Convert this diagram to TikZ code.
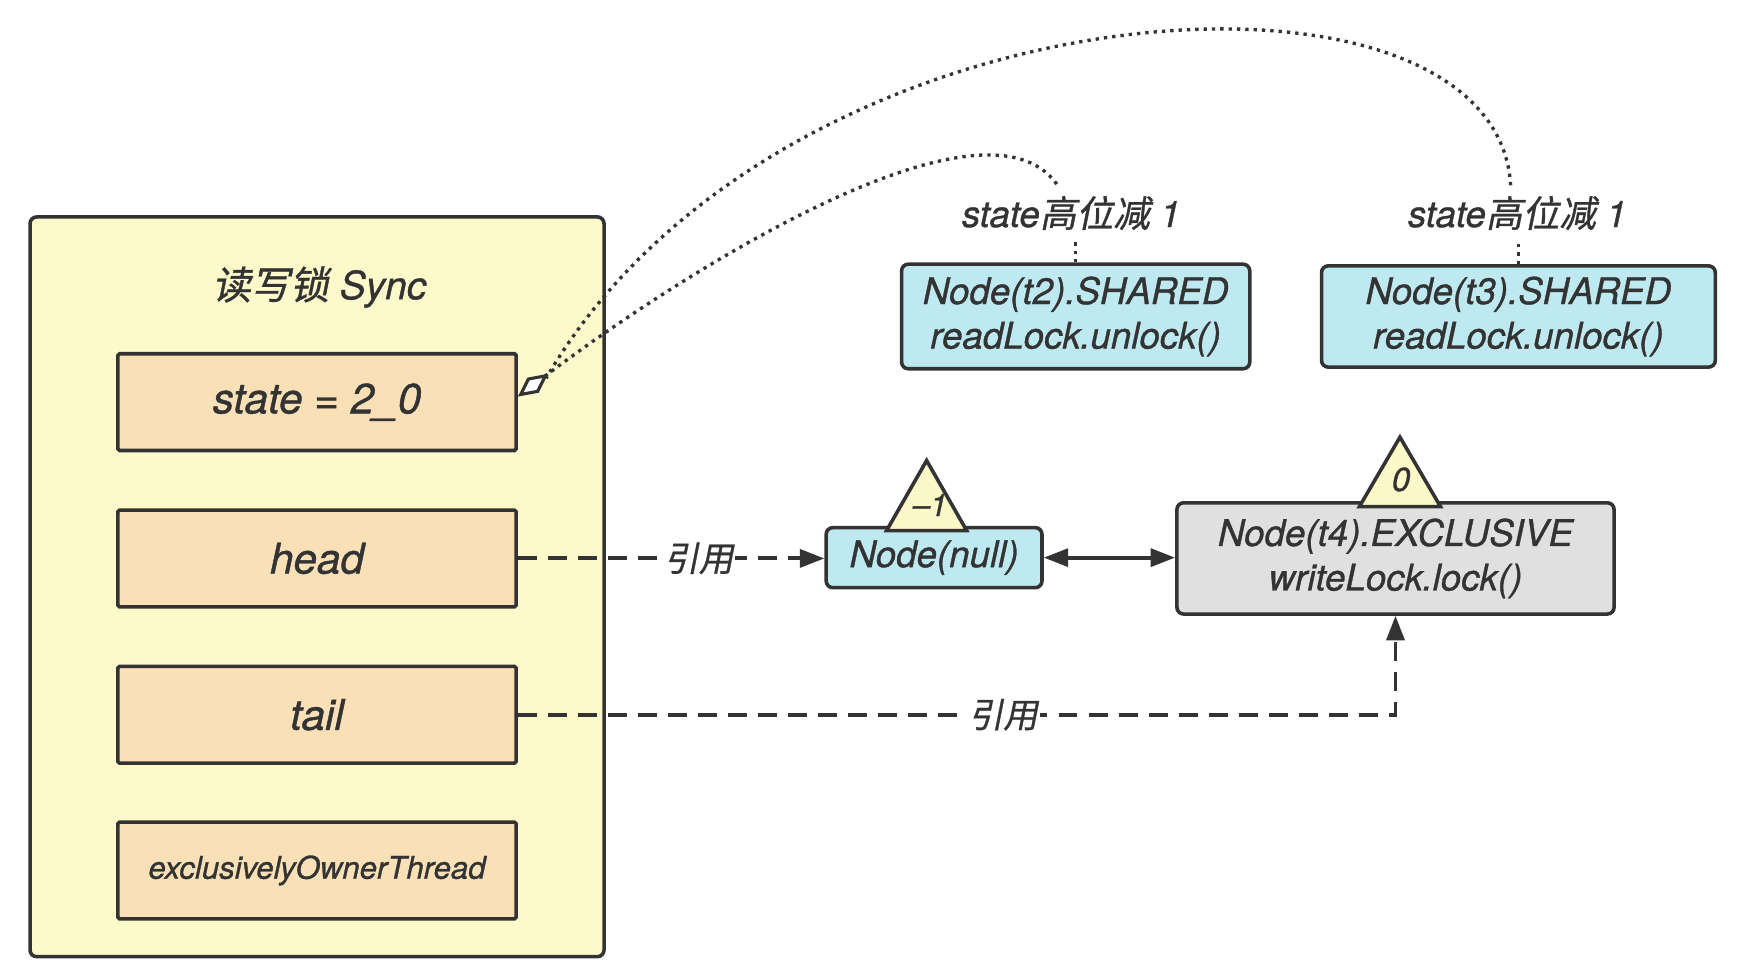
\documentclass[tikz,border=0pt]{standalone}
\usepackage{fontspec}
\setmainfont{TeX Gyre Heros}[ItalicFeatures={FakeBold=0.9}, UprightFeatures={FakeBold=0.9}]
\newfontfamily\cjk[FakeSlant=0.2, FakeBold=0.9]{Noto Sans CJK SC}
\newcommand{\zh}[1]{{\cjk\upshape #1}}
\usetikzlibrary{arrows.meta,calc}
\definecolor{ink}{HTML}{333333}
\definecolor{syncbg}{HTML}{FEF9CA}
\definecolor{fieldbg}{HTML}{F9E0B7}
\definecolor{cyanbg}{HTML}{BEE9F0}
\definecolor{graybg}{HTML}{E0E0E0}
\definecolor{tribg}{HTML}{FDF8C8}
\begin{document}
\begin{tikzpicture}[x=1pt,y=-1pt,
  base/.style={draw=ink, line width=3.2pt, inner sep=0pt, text=ink, align=center},
  syncbox/.style={base, fill=syncbg, rounded corners=6pt},
  field/.style={base, fill=fieldbg, rounded corners=1.5pt, minimum width=358pt, minimum height=87pt, font=\itshape\fontsize{38}{45}\selectfont},
  cyanbox/.style={base, fill=cyanbg, rounded corners=6pt, font=\itshape\fontsize{33}{40}\selectfont},
  graybox/.style={base, fill=graybg, rounded corners=6pt, font=\itshape\fontsize{33}{40}\selectfont},
  txt/.style={inner sep=0pt, text=ink, font=\itshape\fontsize{33}{40}\selectfont},
  lbl/.style={fill=white, inner sep=2pt, text=ink, font=\fontsize{31}{36}\selectfont},
  tri/.style={draw=ink, fill=tribg, line width=3.2pt, line join=miter},
  dashline/.style={draw=ink, line width=3.5pt, dash pattern=on 17pt off 10pt},
  dotline/.style={draw=ink, line width=3pt, dash pattern=on 3pt off 4.5pt},
  tip/.style={-{Triangle[length=22pt,width=16pt]}}
]
\useasboundingbox (0,0) rectangle (1566,879);

% Sync container
\node[syncbox, minimum width=516pt, minimum height=665pt] (sync) at (285,527.5) {};
\node[txt, font=\itshape\fontsize{35}{42}\selectfont] (title) at (287,258) {\zh{读写锁} Sync};
\node[field] (state) at (285,361.5) {state = 2\_0};
\node[field] (head) at (285,502) {head};
\node[field] (tail) at (285,642.5) {tail};
\node[field, font=\itshape\fontsize{28}{34}\selectfont] (excl) at (285,782.5) {exclusivelyOwnerThread};

% shared nodes
\node[cyanbox, minimum width=313pt, minimum height=94pt] (t2) at (967,284.5) {Node(t2).SHARED\\readLock.unlock()};
\node[cyanbox, minimum width=354pt, minimum height=91pt] (t3) at (1365,284.5) {Node(t3).SHARED\\readLock.unlock()};
\node[txt] (lab1) at (963,191.5) {state\zh{高位减} 1};
\node[txt] (lab2) at (1364,191.5) {state\zh{高位减} 1};

% queue nodes
\node[cyanbox, minimum width=194pt, minimum height=54pt] (nul) at (839.7,501.3) {Node(null)};
\node[graybox, minimum width=393pt, minimum height=100pt] (t4) at (1254.5,502) {Node(t4).EXCLUSIVE\\writeLock.lock()};

% triangles
\draw[tri] (833,414) -- (869,477) -- (797,477) -- cycle;
\node[txt, font=\itshape\fontsize{28}{32}\selectfont] (m1) at (836,454) {\textendash1};
\draw[tri] (1258.5,393) -- (1295,455.5) -- (1222,455.5) -- cycle;
\node[txt, font=\itshape\fontsize{30}{34}\selectfont] (z0) at (1259.5,431) {0};

% connectors
\draw[dashline, tip] (head.east) -- node[pos=0.59, lbl]{\zh{引用}} (head.east -| nul.west);
\draw[draw=ink, line width=3.5pt, {Triangle[length=22pt,width=16pt]}-{Triangle[length=22pt,width=16pt]}] (nul.east) -- (nul.east -| t4.west);
\draw[dashline, tip] (tail.east) -- node[pos=0.553, lbl]{\zh{引用}} (tail.east -| t4.south) -- (t4.south);

% dotted links to state
\coordinate (sa) at ($(state.east)+(0,-5)$);
\coordinate (dback) at (491,340);
\coordinate (e1) at ($(lab1.center)+(-13,-26)$);
\coordinate (e2) at ($(lab2.center)+(-6,-25)$);
\coordinate (b1) at ($(lab1.center)+(0,23)$);
\coordinate (b2) at ($(lab2.center)+(0,26)$);
\draw[dotline] (t2.north) -- (t2.north |- b1);
\draw[dotline] (t3.north) -- (t3.north |- b2);
\draw[dotline] (e2) .. controls (1345,-60) and (700,-20) .. (dback);
\draw[dotline, -{Diamond[length=34pt,width=17pt,fill=white,line width=2.8pt,sep=0pt]}] (e1) .. controls (885,75) and (620,240) .. (sa);
\end{tikzpicture}
\end{document}
